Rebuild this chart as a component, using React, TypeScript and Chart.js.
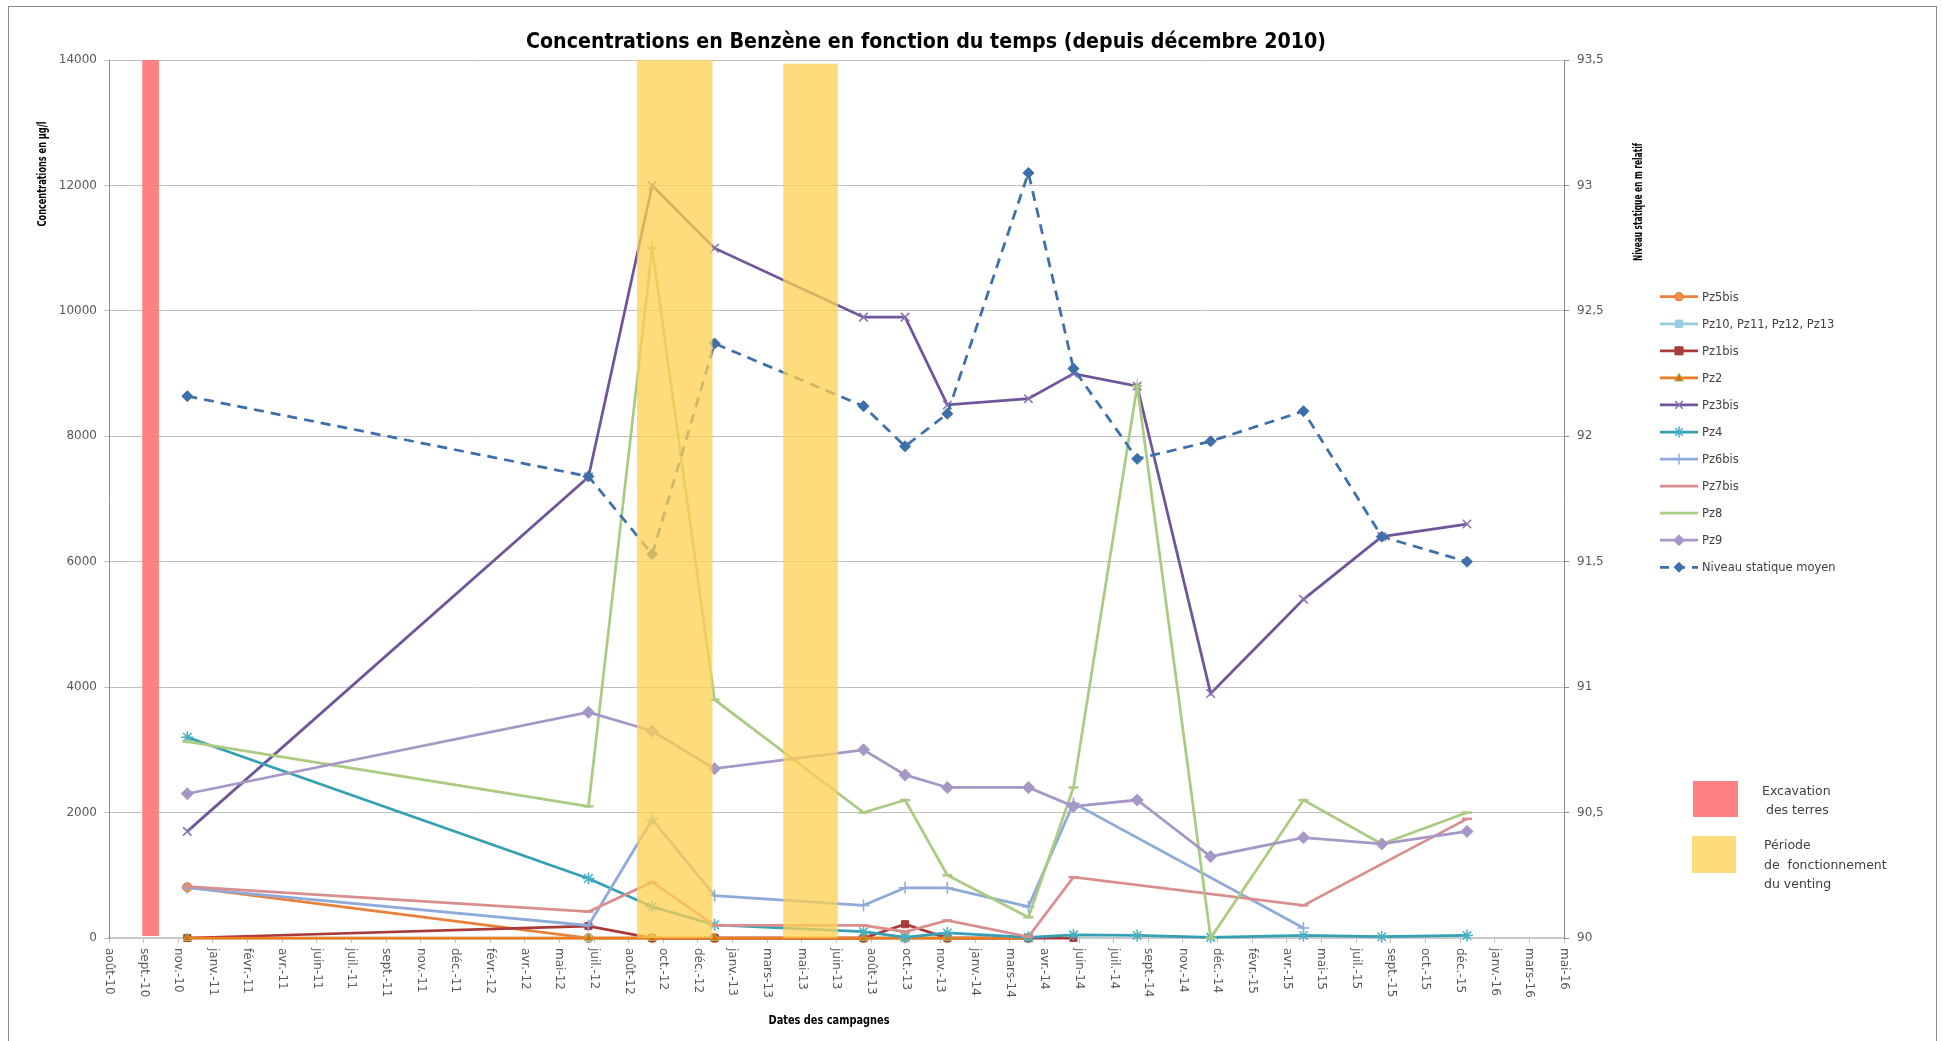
import { useEffect, useRef } from 'react';
import { Chart, registerables } from 'chart.js';

Chart.register(...registerables);

// ---------------- DATA ----------------
const CHART_TITLE = 'Concentrations en Benzène en fonction du temps (depuis décembre 2010)';
const LEFT_AXIS_TITLE = 'Concentrations en µg/l';
const RIGHT_AXIS_TITLE = 'Niveau statique en m relatif';
const X_AXIS_TITLE = 'Dates des campagnes';

const CAMPAIGN_DATES = [
  '2010-12-01', '2012-07-02', '2012-10-02', '2012-12-31', '2013-08-03', '2013-10-02', '2013-12-02',
  '2014-03-29', '2014-06-02', '2014-09-02', '2014-12-17', '2015-04-30', '2015-08-21', '2015-12-22',
];

const PZ5BIS = [810, 0, 0, 0, 0, 0, 0, 0, null, null, null, null, null, null];
const PZ10_13 = [0, 0, 0, 0, 0, 0, 0, 0, null, null, null, null, null, null];
const PZ1BIS = [0, 190, 0, 0, 0, 220, 0, 0, 0, null, null, null, null, null];
const PZ2 = [0, 0, 0, 0, 0, 0, 0, 0, null, null, null, null, null, null];
const PZ3BIS = [1700, 7350, 12000, 11000, 9900, 9900, 8500, 8600, 9000, 8800, 3900, 5400, 6400, 6600];
const PZ4 = [3200, 950, 500, 210, 100, 10, 80, 10, 50, 40, 10, 40, 20, 40];
const PZ6BIS = [800, 200, 1890, 675, 520, 800, 800, 500, 2150, null, null, 160, null, null];
const PZ7BIS = [820, 420, 890, 200, 200, 100, 280, 20, 970, null, null, 520, null, 1900];
const PZ8 = [3130, 2100, 11000, 3800, 2000, 2200, 1000, 330, 2400, 8800, 0, 2200, 1500, 2000];
const PZ9 = [2300, 3600, 3300, 2700, 3000, 2600, 2400, 2400, 2100, 2200, 1300, 1600, 1500, 1700];
const NIVEAU_STATIQUE = [92.16, 91.84, 91.53, 92.37, 92.12, 91.96, 92.09, 93.05, 92.27, 91.91, 91.98, 92.1, 91.6, 91.5];

const X_TICK_LABELS = [
  'août-10', 'sept.-10', 'nov.-10', 'janv.-11', 'févr.-11', 'avr.-11', 'juin-11', 'juil.-11', 'sept.-11',
  'nov.-11', 'déc.-11', 'févr.-12', 'avr.-12', 'mai-12', 'juil.-12', 'août-12', 'oct.-12', 'déc.-12',
  'janv.-13', 'mars-13', 'mai-13', 'juin-13', 'août-13', 'oct.-13', 'nov.-13', 'janv.-14', 'mars-14',
  'avr.-14', 'juin-14', 'juil.-14', 'sept.-14', 'nov.-14', 'déc.-14', 'févr.-15', 'avr.-15', 'mai-15',
  'juil.-15', 'sept.-15', 'oct.-15', 'déc.-15', 'janv.-16', 'mars-16', 'mai-16',
];
const X_AXIS_START = '2010-08-10';
const X_TICK_STEP_DAYS = 50;

const LEFT_MIN = 0;
const LEFT_MAX = 14000;
const LEFT_STEP = 2000;
const RIGHT_MIN = 90;
const RIGHT_MAX = 93.5;
const RIGHT_STEP = 0.5;

const EXCAVATION_START = '2010-09-27';
const EXCAVATION_END = '2010-10-21';
const VENTING_STARTS = ['2012-09-10', '2013-04-09'];
const VENTING_ENDS = ['2012-12-28', '2013-06-27'];
const VENTING_TOPS = [14000, 13940];

const EXCAVATION_LABEL = ['Excavation', ' des terres'];
const VENTING_LABEL = ['Période', 'de  fonctionnement', 'du venting'];

// ---------------- HELPERS ----------------
const toSerial = (iso: string) => {
  const [y, m, d] = iso.split('-').map(Number);
  return (Date.UTC(y, m - 1, d) - Date.UTC(1899, 11, 30)) / 86400000;
};

const X_MIN = toSerial(X_AXIS_START);
const X_MAX = X_MIN + (X_TICK_LABELS.length - 1) * X_TICK_STEP_DAYS;

const RED_BAND = 'rgba(255,118,118,0.92)';
const YELLOW_BAND = 'rgba(254,208,80,0.75)';

type Series = {
  label: string;
  values: (number | null)[];
  color: string;
  pointStyle: string;
  radius: number;
  fill: string;
  stroke: string;
  pointBorderWidth: number;
  axis: 'y' | 'y2';
  dash?: number[];
};

const SERIES: Series[] = [
  { label: 'Pz5bis', values: PZ5BIS, color: '#E8813A', pointStyle: 'circle', radius: 4.5, fill: '#F0904A', stroke: '#E07020', pointBorderWidth: 1, axis: 'y' },
  { label: 'Pz10, Pz11, Pz12, Pz13', values: PZ10_13, color: '#93CDDD', pointStyle: 'rect', radius: 4.5, fill: '#93CDDD', stroke: '#93CDDD', pointBorderWidth: 1, axis: 'y' },
  { label: 'Pz1bis', values: PZ1BIS, color: '#AA3A3A', pointStyle: 'rect', radius: 5, fill: '#A83C3A', stroke: '#A83C3A', pointBorderWidth: 1, axis: 'y' },
  { label: 'Pz2', values: PZ2, color: '#F07A1E', pointStyle: 'triangle', radius: 5, fill: '#E36C09', stroke: '#9BBB59', pointBorderWidth: 1, axis: 'y' },
  { label: 'Pz3bis', values: PZ3BIS, color: '#70559A', pointStyle: 'crossRot', radius: 6, fill: '#70559A', stroke: '#8A72B0', pointBorderWidth: 1.5, axis: 'y' },
  { label: 'Pz4', values: PZ4, color: '#35A0B4', pointStyle: 'star', radius: 6, fill: '#35A0B4', stroke: '#45B0C6', pointBorderWidth: 1.5, axis: 'y' },
  { label: 'Pz6bis', values: PZ6BIS, color: '#8EAADB', pointStyle: 'cross', radius: 6, fill: '#8EAADB', stroke: '#8EAADB', pointBorderWidth: 1.5, axis: 'y' },
  { label: 'Pz7bis', values: PZ7BIS, color: '#D98E8E', pointStyle: 'line', radius: 5, fill: '#D98E8E', stroke: '#D98E8E', pointBorderWidth: 2.5, axis: 'y' },
  { label: 'Pz8', values: PZ8, color: '#AACB82', pointStyle: 'line', radius: 5, fill: '#AACB82', stroke: '#AACB82', pointBorderWidth: 2.5, axis: 'y' },
  { label: 'Pz9', values: PZ9, color: '#A697C6', pointStyle: 'rectRot', radius: 6, fill: '#A697C6', stroke: '#A697C6', pointBorderWidth: 1, axis: 'y' },
  { label: 'Niveau statique moyen', values: NIVEAU_STATIQUE, color: '#3D6FAB', pointStyle: 'rectRot', radius: 5.5, fill: '#3D6FAB', stroke: '#3D6FAB', pointBorderWidth: 1, axis: 'y2', dash: [10, 7] },
];

function drawMarker(ctx: CanvasRenderingContext2D, style: string, x: number, y: number, r: number, fill: string, stroke: string, lw: number) {
  ctx.save();
  ctx.fillStyle = fill;
  ctx.strokeStyle = stroke;
  ctx.lineWidth = lw;
  ctx.setLineDash([]);
  ctx.beginPath();
  const d = r * 0.7071;
  switch (style) {
    case 'circle':
      ctx.arc(x, y, r, 0, Math.PI * 2);
      ctx.fill();
      ctx.stroke();
      break;
    case 'rect':
      ctx.rect(x - r * 0.9, y - r * 0.9, r * 1.8, r * 1.8);
      ctx.fill();
      ctx.stroke();
      break;
    case 'triangle':
      ctx.moveTo(x, y - r);
      ctx.lineTo(x + r * 0.95, y + r * 0.7);
      ctx.lineTo(x - r * 0.95, y + r * 0.7);
      ctx.closePath();
      ctx.fill();
      ctx.stroke();
      break;
    case 'rectRot':
      ctx.moveTo(x, y - r);
      ctx.lineTo(x + r, y);
      ctx.lineTo(x, y + r);
      ctx.lineTo(x - r, y);
      ctx.closePath();
      ctx.fill();
      ctx.stroke();
      break;
    case 'crossRot':
      ctx.moveTo(x - d, y - d); ctx.lineTo(x + d, y + d);
      ctx.moveTo(x + d, y - d); ctx.lineTo(x - d, y + d);
      ctx.stroke();
      break;
    case 'cross':
      ctx.moveTo(x, y - r); ctx.lineTo(x, y + r);
      ctx.moveTo(x - r, y); ctx.lineTo(x + r, y);
      ctx.stroke();
      break;
    case 'star':
      ctx.moveTo(x, y - r); ctx.lineTo(x, y + r);
      ctx.moveTo(x - d, y - d); ctx.lineTo(x + d, y + d);
      ctx.moveTo(x + d, y - d); ctx.lineTo(x - d, y + d);
      ctx.stroke();
      break;
    case 'line':
      ctx.moveTo(x - r, y); ctx.lineTo(x + r, y);
      ctx.stroke();
      break;
  }
  ctx.restore();
}

const CONDENSED = '"DejaVu Sans Condensed", "Liberation Sans Narrow", "DejaVu Sans", sans-serif';
const REGULAR = '"DejaVu Sans", Verdana, sans-serif';

// draws bold text of a given glyph size, squeezed horizontally to the wanted length (Calibri-like look)
function drawSqueezed(ctx: CanvasRenderingContext2D, text: string, cx: number, cy: number, size: number, length: number, rot: number) {
  ctx.save();
  ctx.font = `bold ${size}px ${CONDENSED}`;
  const w = ctx.measureText(text).width || 1;
  ctx.translate(cx, cy);
  ctx.rotate(rot);
  ctx.scale(Math.min(1.2, length / w), 1);
  ctx.textAlign = 'center';
  ctx.fillText(text, 0, 0);
  ctx.restore();
}

const decorPlugin = {
  id: 'decor',
  beforeDraw(chart: any) {
    const { ctx, width, height } = chart;
    ctx.save();
    ctx.fillStyle = '#FFFFFF';
    ctx.fillRect(0, 0, width, height);
    ctx.strokeStyle = '#8A8A8A';
    ctx.lineWidth = 1;
    ctx.strokeRect(8.5, 6.5, 1928, 1060);
    ctx.restore();
  },
  afterDatasetsDraw(chart: any) {
    const { ctx, chartArea, scales } = chart;
    const x = scales.x;
    const y = scales.y;
    ctx.save();
    ctx.beginPath();
    ctx.rect(chartArea.left, chartArea.top, chartArea.right - chartArea.left, chartArea.bottom - chartArea.top);
    ctx.clip();
    const yBottom = y.getPixelForValue(LEFT_MIN) - 2;
    const ex0 = x.getPixelForValue(toSerial(EXCAVATION_START));
    const ex1 = x.getPixelForValue(toSerial(EXCAVATION_END));
    const exTop = y.getPixelForValue(LEFT_MAX);
    ctx.fillStyle = RED_BAND;
    ctx.fillRect(ex0, exTop, ex1 - ex0, yBottom - exTop);
    ctx.fillStyle = YELLOW_BAND;
    VENTING_STARTS.forEach((s, i) => {
      const a = x.getPixelForValue(toSerial(s));
      const b = x.getPixelForValue(toSerial(VENTING_ENDS[i]));
      const t = y.getPixelForValue(VENTING_TOPS[i]);
      ctx.fillRect(a, t, b - a, y.getPixelForValue(LEFT_MIN) - t);
    });
    ctx.restore();
  },
  afterDraw(chart: any) {
    const { ctx, scales } = chart;
    const x = scales.x;
    ctx.save();
    // x tick labels rotated 90° clockwise
    ctx.fillStyle = '#595959';
    ctx.font = `12px ${REGULAR}`;
    ctx.textAlign = 'left';
    ctx.textBaseline = 'middle';
    x.ticks.forEach((t: any) => {
      const idx = Math.round((t.value - X_MIN) / X_TICK_STEP_DAYS);
      const label = X_TICK_LABELS[idx];
      if (label === undefined) return;
      const px = x.getPixelForValue(t.value);
      ctx.save();
      ctx.translate(px, x.top + 10);
      ctx.rotate(Math.PI / 2);
      ctx.fillText(label, 0, 0);
      ctx.restore();
    });

    // Titles
    ctx.fillStyle = '#000000';
    ctx.textBaseline = 'alphabetic';
    drawSqueezed(ctx, CHART_TITLE, 926, 48, 22, 800, 0);
    ctx.textBaseline = 'middle';
    drawSqueezed(ctx, LEFT_AXIS_TITLE, 43, 174, 12.5, 105, -Math.PI / 2);
    drawSqueezed(ctx, RIGHT_AXIS_TITLE, 1639, 202, 12.5, 118, -Math.PI / 2);
    drawSqueezed(ctx, X_AXIS_TITLE, 829, 1021, 13, 121, 0);

    // Series legend
    ctx.textAlign = 'left';
    ctx.font = `11.5px ${REGULAR}`;
    SERIES.forEach((s, i) => {
      const ly = 296.7 + i * 27.06;
      ctx.save();
      ctx.strokeStyle = s.color;
      ctx.lineWidth = 2.75;
      ctx.setLineDash(s.dash ? [9, 7] : []);
      ctx.beginPath();
      ctx.moveTo(1660, ly);
      ctx.lineTo(1698, ly);
      ctx.stroke();
      ctx.restore();
      if (s.pointStyle !== 'line') {
        drawMarker(ctx, s.pointStyle, 1679, ly, s.radius * 0.9, s.fill, s.stroke, s.pointBorderWidth);
      }
      ctx.fillStyle = '#404040';
      ctx.fillText(s.label, 1702, ly + 1);
    });

    // Band legend
    ctx.fillStyle = RED_BAND;
    ctx.fillRect(1693, 781, 45, 36);
    ctx.fillStyle = YELLOW_BAND;
    ctx.fillRect(1692, 836, 44, 37);
    ctx.fillStyle = '#404040';
    ctx.font = `12.5px ${REGULAR}`;
    EXCAVATION_LABEL.forEach((t, i) => ctx.fillText(t, 1762, 792 + i * 19));
    VENTING_LABEL.forEach((t, i) => ctx.fillText(t, 1764, 846 + i * 19.5));
    ctx.restore();
  },
};

export default function App() {
  const ref = useRef<HTMLCanvasElement>(null);

  useEffect(() => {
    const canvas = ref.current;
    if (!canvas) return;
    const xs = CAMPAIGN_DATES.map(toSerial);
    const datasets = SERIES.map((s, i) => ({
      label: s.label,
      data: xs.map((xv, k) => ({ x: xv, y: s.values[k] })),
      yAxisID: s.axis,
      borderColor: s.color,
      backgroundColor: s.fill,
      borderWidth: 2.75,
      borderDash: s.dash || [],
      pointStyle: s.pointStyle,
      pointRadius: s.radius,
      pointBackgroundColor: s.fill,
      pointBorderColor: s.stroke,
      pointBorderWidth: s.pointBorderWidth,
      spanGaps: true,
      tension: 0,
      fill: false,
      clip: false as any,
      order: -i,
    }));

    const chart = new Chart(canvas, {
      type: 'line',
      data: { datasets },
      plugins: [decorPlugin],
      options: {
        animation: false,
        responsive: false,
        devicePixelRatio: 1,
        layout: { padding: { top: 60, left: 0, right: 0, bottom: 0 } },
        plugins: { legend: { display: false }, title: { display: false }, tooltip: { enabled: false } },
        scales: {
          x: {
            type: 'linear',
            position: 'bottom',
            min: X_MIN,
            max: X_MAX,
            ticks: { display: false, stepSize: X_TICK_STEP_DAYS, autoSkip: false },
            grid: { drawOnChartArea: false, drawTicks: true, tickLength: 5, color: '#BFBFBF' },
            border: { display: true, color: '#C8C8C8', width: 2 },
            afterFit: (s: any) => { s.height = 103; },
          },
          y: {
            type: 'linear',
            position: 'left',
            min: LEFT_MIN,
            max: LEFT_MAX,
            ticks: {
              stepSize: LEFT_STEP,
              padding: 7,
              color: '#595959',
              font: { family: 'DejaVu Sans', size: 12 },
              callback: (v: any) => String(v),
            },
            grid: { color: '#C0C0C0', tickLength: 5, drawTicks: true },
            border: { display: true, color: '#8C8C8C' },
            afterFit: (s: any) => { s.width = 109; },
          },
          y2: {
            type: 'linear',
            position: 'right',
            min: RIGHT_MIN,
            max: RIGHT_MAX,
            ticks: {
              stepSize: RIGHT_STEP,
              padding: 8,
              color: '#595959',
              font: { family: 'DejaVu Sans', size: 12 },
              callback: (v: any) => String(v).replace('.', ','),
            },
            grid: { drawOnChartArea: false, tickLength: 5, drawTicks: true, color: '#8C8C8C' },
            border: { display: true, color: '#8C8C8C' },
            afterFit: (s: any) => { s.width = 1943 - 1564; },
          },
        },
      } as any,
    });
    return () => chart.destroy();
  }, []);

  return (
    <div style={{ position: 'absolute', left: 0, top: 0, width: 1943, height: 1041 }}>
      <canvas ref={ref} width={1943} height={1041} style={{ display: 'block' }} />
    </div>
  );
}
